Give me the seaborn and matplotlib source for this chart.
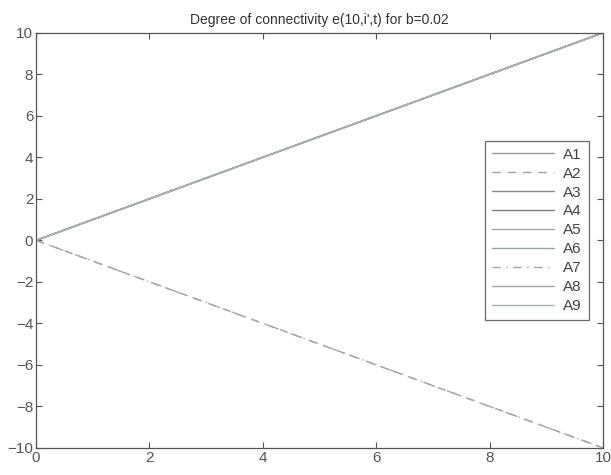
import numpy as np
import pandas as pd
import matplotlib
matplotlib.use("Agg")
import matplotlib.pyplot as plt
import seaborn as sns

# Time axis and end values of each connectivity series (linear from 0)
t = [0, 10]
names = ["A1", "A2", "A3", "A4", "A5", "A6", "A7", "A8", "A9"]
A1 = [0, 10]
A2 = [0, -10]
A3 = [0, 10]
A4 = [0, 10]
A5 = [0, 10]
A6 = [0, 10]
A7 = [0, -10]
A8 = [0, 10]
A9 = [0, 10]
series = [A1, A2, A3, A4, A5, A6, A7, A8, A9]

colors = ["#9a9a9a", "#a0a0a0", "#8a8a8a", "#7e7e7e", "#a8a8a8",
          "#9aa4a8", "#a0a8b0", "#a4a4a4", "#a8b0b4"]
styles = ["-", (0, (6, 5)), "-", "-", "-", "-", (0, (6, 4, 1, 4)), "-", "-"]

rows = []
for n, vals in zip(names, series):
    for ti, v in zip(t, vals):
        rows.append({"t": ti, "e": v, "series": n})
df = pd.DataFrame(rows)

sns.set_style("white")
plt.rcParams["font.family"] = ["Liberation Sans", "DejaVu Sans"]

fig = plt.figure(figsize=(6.11, 4.75), dpi=100)
ax = fig.add_axes([0.059, 0.057, 0.928, 0.874])

for n, c, ls in zip(names, colors, styles):
    sub = df[df["series"] == n]
    sns.lineplot(data=sub, x="t", y="e", ax=ax, color=c, linewidth=1.0,
                 label=n, linestyle=ls)

ax.set_xlim(0, 10)
ax.set_ylim(-10, 10)
ax.set_xticks(np.arange(0, 11, 2))
ax.set_yticks(np.arange(-10, 11, 2))
ax.set_yticklabels(["\u221210", "\u22128", "\u22126", "\u22124", "\u22122",
                    "0", "2", "4", "6", "8", "10"])
ax.set_xlabel("")
ax.set_ylabel("")
ax.set_title("Degree of connectivity e(10,i',t) for b=0.02", fontsize=10,
             color="#333333", pad=6)
ax.tick_params(direction="in", length=4, labelsize=11, colors="#555555",
               top=True, right=True, bottom=True, left=True, pad=2)
for s in ax.spines.values():
    s.set_color("#555555")
    s.set_linewidth(0.9)

leg = ax.legend(loc="center right", bbox_to_anchor=(0.975, 0.524),
                borderaxespad=0, frameon=True, fancybox=False, fontsize=11,
                handlelength=4.1, handletextpad=0.6, labelspacing=0.32,
                borderpad=0.45, markerfirst=True)
leg.get_frame().set_edgecolor("#444444")
leg.get_frame().set_linewidth(0.9)
for txt in leg.get_texts():
    txt.set_color("#444444")

fig.savefig("out.png", dpi=100)
